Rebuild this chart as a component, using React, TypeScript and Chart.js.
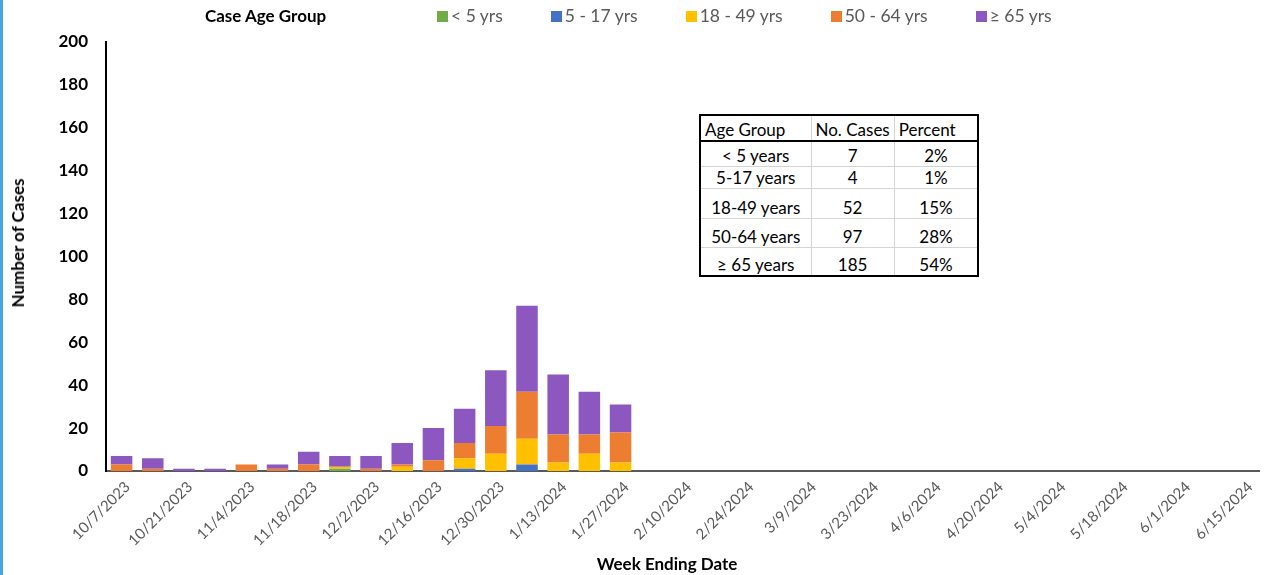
import React, { useEffect, useRef } from "react";
import { Chart, registerables } from "chart.js";

Chart.register(...registerables);

const weeks = [
  "10/7/2023", "10/14/2023", "10/21/2023", "10/28/2023",
  "11/4/2023", "11/11/2023", "11/18/2023", "11/25/2023",
  "12/2/2023", "12/9/2023", "12/16/2023", "12/23/2023", "12/30/2023",
  "1/6/2024", "1/13/2024", "1/20/2024", "1/27/2024",
  "2/3/2024", "2/10/2024", "2/17/2024", "2/24/2024",
  "3/2/2024", "3/9/2024", "3/16/2024", "3/23/2024", "3/30/2024",
  "4/6/2024", "4/13/2024", "4/20/2024", "4/27/2024",
  "5/4/2024", "5/11/2024", "5/18/2024", "5/25/2024",
  "6/1/2024", "6/8/2024", "6/15/2024",
];

const seriesNames = ["< 5 yrs", "5 - 17 yrs", "18 - 49 yrs", "50 - 64 yrs", "\u2265 65 yrs"];
const seriesColors = ["#70AD47", "#4472C4", "#FFC000", "#ED7D31", "#8C57BE"];

const under5 = [0, 0, 0, 0, 0, 0, 0, 1, 0, 0, 0, 0, 0, 0, 0, 0, 0];
const age5to17 = [0, 0, 0, 0, 0, 0, 0, 0, 0, 0, 0, 1, 0, 3, 0, 0, 0];
const age18to49 = [0, 0, 0, 0, 0, 0, 0, 1, 0, 2, 0, 5, 8, 12, 4, 8, 4];
const age50to64 = [3, 1, 0, 0, 3, 1, 3, 0, 1, 1, 5, 7, 13, 22, 13, 9, 14];
const age65plus = [4, 5, 1, 1, 0, 2, 6, 5, 6, 10, 15, 16, 26, 40, 28, 20, 13];

const yTicks = { min: 0, max: 200, step: 20 };

const tableHeader = ["Age Group", "No. Cases", "Percent"];
const tableGroups = ["< 5 years", "5-17 years", "18-49 years", "50-64 years", "\u2265 65 years"];
const tableCases = ["7", "4", "52", "97", "185"];
const tablePercents = ["2%", "1%", "15%", "28%", "54%"];
const tableRowHeights = [25, 22, 30, 29, 29];

const FONT = "Lato, 'Open Sans', sans-serif";

export default function App() {
  const canvasRef = useRef<HTMLCanvasElement | null>(null);

  useEffect(() => {
    const canvas = canvasRef.current;
    if (!canvas) return;
    const values = [under5, age5to17, age18to49, age50to64, age65plus];
    const chart = new Chart(canvas, {
      type: "bar",
      data: {
        labels: weeks,
        datasets: seriesNames.map((name, i) => ({
          label: name,
          data: values[i],
          backgroundColor: seriesColors[i],
          borderWidth: 0,
          barPercentage: 0.69,
          categoryPercentage: 1.0,
        })),
      },
      options: {
        animation: false,
        responsive: false,
        devicePixelRatio: 1,
        layout: { padding: { top: 42, right: 2, left: 0, bottom: 0 } },
        plugins: {
          legend: { display: false },
          tooltip: { enabled: false },
          title: { display: false },
        },
        scales: {
          x: {
            stacked: true,
            grid: { display: false, drawTicks: false },
            border: { display: true, color: "#595959", width: 2 },
            ticks: {
              autoSkip: false,
              maxRotation: 45,
              minRotation: 45,
              padding: 7,
              labelOffset: 6,
              color: "#595959",
              font: { family: FONT, size: 15 },
              callback: (_v: any, i: number) => (i % 2 === 0 ? weeks[i] : ""),
            },
            title: {
              display: false,
            },
            afterFit: (s: any) => {
              s.height = 104;
            },
          },
          y: {
            stacked: true,
            min: yTicks.min,
            max: yTicks.max,
            grid: { display: false, drawTicks: false },
            border: { display: true, color: "#000", width: 2 },
            ticks: {
              stepSize: yTicks.step,
              padding: 18,
              color: "#000",
              font: { family: FONT, size: 17, weight: "bold" },
            },
            title: {
              display: false,
            },
            afterFit: (s: any) => {
              s.width = 106;
            },
          },
        },
      },
    } as any);
    return () => chart.destroy();
  }, []);

  const cellBase: React.CSSProperties = {
    border: "1px solid #d4d4d4",
    padding: "0 4px 2px 4px",
    verticalAlign: "bottom",
    lineHeight: 1,
    whiteSpace: "nowrap",
  };

  return (
    <div
      style={{
        position: "fixed",
        left: 0,
        top: 0,
        width: 1264,
        height: 575,
        background: "#fff",
        overflow: "hidden",
        fontFamily: FONT,
      }}
    >
      <canvas ref={canvasRef} width={1264} height={575} style={{ position: "absolute", left: 0, top: 0 }} />
      <div style={{ position: "absolute", left: 0, top: 0, width: 3, height: 575, background: "#47A6E2" }} />
      <div
        style={{
          position: "absolute",
          left: 18,
          top: 243,
          transform: "translate(-50%, -50%) rotate(-90deg)",
          fontSize: 17,
          fontWeight: "bold",
          color: "#000",
          lineHeight: "20px",
          whiteSpace: "nowrap",
        }}
      >
        Number of Cases
      </div>
      <div
        style={{
          position: "absolute",
          left: 667,
          top: 564,
          transform: "translate(-50%, -50%)",
          fontSize: 17,
          fontWeight: "bold",
          color: "#000",
          lineHeight: "20px",
          whiteSpace: "nowrap",
        }}
      >
        Week Ending Date
      </div>
      <div
        style={{
          position: "absolute",
          left: 205,
          top: 6,
          fontSize: 17,
          fontWeight: "bold",
          color: "#000",
          lineHeight: "20px",
        }}
      >
        Case Age Group
      </div>
      <div
        style={{
          position: "absolute",
          left: 437,
          top: 6,
          display: "flex",
          alignItems: "center",
          gap: 48,
          fontSize: 17.5,
          color: "#595959",
          lineHeight: "20px",
          whiteSpace: "nowrap",
        }}
      >
        {seriesNames.map((n, i) => (
          <div key={n} style={{ display: "flex", alignItems: "center" }}>
            <span style={{ display: "inline-block", width: 11, height: 11, background: seriesColors[i], marginRight: 3 }} />
            <span>{n}</span>
          </div>
        ))}
      </div>
      <table
        style={{
          position: "absolute",
          left: 699,
          top: 114,
          borderCollapse: "collapse",
          border: "2px solid #000",
          fontSize: 17,
          color: "#000",
          background: "#fff",
          tableLayout: "fixed",
        }}
      >
        <colgroup>
          <col style={{ width: 111 }} />
          <col style={{ width: 83 }} />
          <col style={{ width: 84 }} />
        </colgroup>
        <tbody>
          <tr style={{ height: 26 }}>
            {tableHeader.map((h, i) => (
              <td
                key={h}
                style={{
                  ...cellBase,
                  borderBottom: "2px solid #000",
                  textAlign: i === 1 ? "center" : "left",
                  borderTop: "2px solid #000",
                }}
              >
                {h}
              </td>
            ))}
          </tr>
          {tableGroups.map((g, r) => (
            <tr key={g} style={{ height: tableRowHeights[r] }}>
              <td style={{ ...cellBase, textAlign: "center" }}>{g}</td>
              <td style={{ ...cellBase, textAlign: "center" }}>{tableCases[r]}</td>
              <td style={{ ...cellBase, textAlign: "center" }}>{tablePercents[r]}</td>
            </tr>
          ))}
        </tbody>
      </table>
    </div>
  );
}
